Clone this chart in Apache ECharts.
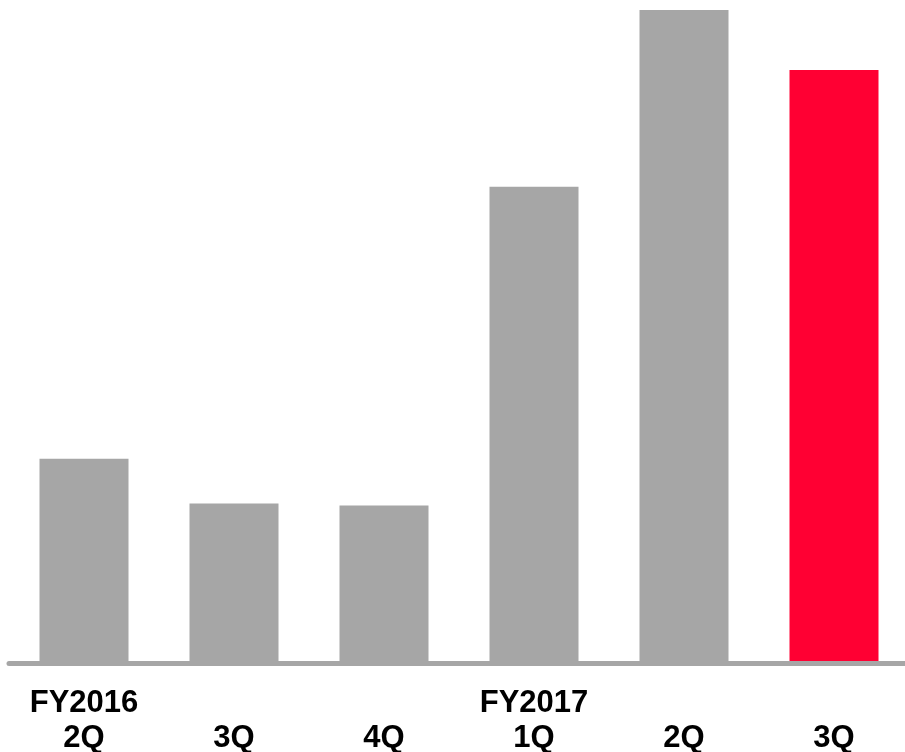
<!DOCTYPE html>
<html>
<head>
<meta charset="utf-8">
<script src="https://cdn.jsdelivr.net/npm/echarts@6/dist/echarts.min.js"></script>
<style>html,body{margin:0;padding:0;background:#fff;}#c{width:905px;height:752px;}</style>
</head>
<body>
<div id="c"></div>
<script>
var categories = ["FY2016\n2Q", "\n3Q", "\n4Q", "FY2017\n1Q", "\n2Q", "\n3Q"];
var values = [205, 160, 158, 477, 654, 594];
var highlightIndex = 5;

var chart = echarts.init(document.getElementById('c'), null, {renderer: 'canvas'});
chart.setOption({
  animation: false,
  grid: {left: 9, top: 10, width: 900, bottom: 88.5, containLabel: false, outerBoundsMode: 'none'},
  xAxis: {
    type: 'category',
    data: categories,
    z: 5,
    axisLine: {show: true, lineStyle: {color: '#a6a6a6', width: 5}},
    axisTick: {show: false},
    axisLabel: {
      margin: 22,
      fontFamily: 'Liberation Sans, Arial, sans-serif',
      fontWeight: 'bold',
      fontSize: 31,
      lineHeight: 35.5,
      color: '#000',
      interval: 0
    }
  },
  yAxis: {
    type: 'value',
    min: 0,
    max: 654,
    show: false,
    splitLine: {show: false}
  },
  series: [{
    type: 'bar',
    barWidth: 89,
    data: values.map(function (v, i) {
      return {value: v, itemStyle: {color: i === highlightIndex ? '#ff0033' : '#a6a6a6'}};
    })
  }]
});
</script>
</body>
</html>
